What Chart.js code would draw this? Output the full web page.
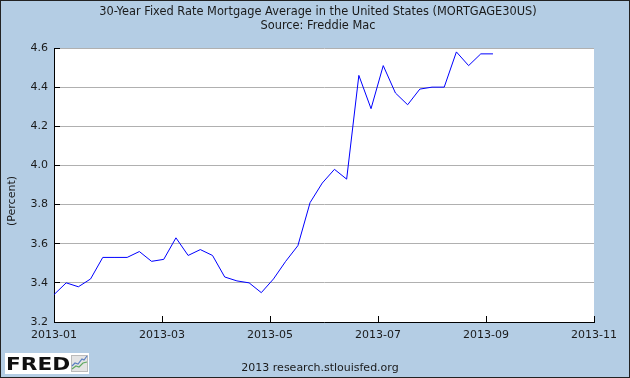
<!DOCTYPE html>
<html>
<head>
<meta charset="utf-8">
<script src="https://cdn.jsdelivr.net/npm/chart.js@4.4.1/dist/chart.umd.min.js"></script>
<style>
  html, body { margin: 0; padding: 0; background: #b4cde4; }
  canvas { display: block; }
</style>
</head>
<body>
<canvas id="myChart" width="630" height="378"></canvas>
<script>
// weekly survey dates (Thursdays) and the 30-year fixed rate, percent
const weekDates = [
    '2013-01-03', '2013-01-10', '2013-01-17', '2013-01-24', '2013-01-31',
    '2013-02-07', '2013-02-14', '2013-02-21', '2013-02-28',
    '2013-03-07', '2013-03-14', '2013-03-21', '2013-03-28',
    '2013-04-04', '2013-04-11', '2013-04-18', '2013-04-25',
    '2013-05-02', '2013-05-09', '2013-05-16', '2013-05-23', '2013-05-30',
    '2013-06-06', '2013-06-13', '2013-06-20', '2013-06-27',
    '2013-07-04', '2013-07-11', '2013-07-18', '2013-07-25',
    '2013-08-01', '2013-08-08', '2013-08-15', '2013-08-22', '2013-08-29',
    '2013-09-05', '2013-09-12'
];
const mortgageRates = [
    3.34, 3.40, 3.38, 3.42, 3.53,
    3.53, 3.53, 3.56, 3.51,
    3.52, 3.63, 3.54, 3.57,
    3.54, 3.43, 3.41, 3.40,
    3.35, 3.42, 3.51, 3.59, 3.81,
    3.91, 3.98, 3.93, 4.46,
    4.29, 4.51, 4.37, 4.31,
    4.39, 4.40, 4.40, 4.58, 4.51,
    4.57, 4.57
];

// x axis: days since first observation, FRED splits it in 5 equal parts
const xTickDays = [0, 62, 124, 186, 248, 310];
const xTickLabels = ['2013-01', '2013-03', '2013-05', '2013-07', '2013-09', '2013-11'];

const titleLines = [
    '30-Year Fixed Rate Mortgage Average in the United States (MORTGAGE30US)',
    'Source: Freddie Mac'
];
const yAxisTitle = '(Percent)';
const footerText = '2013 research.stlouisfed.org';

const DAY = 24 * 60 * 60 * 1000;
const startDay = Date.parse(weekDates[0]);
const points = weekDates.map((d, i) => ({
    x: (Date.parse(d) - startDay) / DAY,
    y: mortgageRates[i]
}));

const FONT = '"DejaVu Sans", Verdana, sans-serif';

// background, white plot area, titles, footer and logo
const fredFrame = {
    id: 'fredFrame',
    beforeDraw(chart) {
        const { ctx, chartArea: a, width, height } = chart;
        ctx.save();
        ctx.fillStyle = '#b4cde4';
        ctx.fillRect(0, 0, width, height);
        ctx.fillStyle = '#ffffff';
        ctx.fillRect(a.left, a.top, a.right - a.left, a.bottom - a.top);
        ctx.restore();
    },
    afterDraw(chart) {
        const { ctx, width, height } = chart;
        ctx.save();
        ctx.fillStyle = '#1a1a1a';
        ctx.textAlign = 'center';
        ctx.textBaseline = 'middle';
        ctx.font = '11.4px ' + FONT;
        ctx.fillText(titleLines[0], 318, 12);
        ctx.fillText(titleLines[1], 318, 26);
        ctx.font = '11px ' + FONT;
        ctx.fillText(footerText, 320, 368);

        // y axis title
        ctx.save();
        ctx.translate(12, 201);
        ctx.rotate(-Math.PI / 2);
        ctx.fillText(yAxisTitle, 0, 0);
        ctx.restore();

        // FRED logo
        ctx.fillStyle = '#ffffff';
        ctx.fillRect(5, 353, 84, 21);
        ctx.save();
        ctx.translate(6, 370);
        ctx.scale(1.2, 1);
        ctx.fillStyle = '#111111';
        ctx.font = 'bold 18px ' + FONT;
        ctx.textAlign = 'left';
        ctx.textBaseline = 'alphabetic';
        ctx.fillText('FRED', 0, 0);
        ctx.restore();
        ctx.fillStyle = '#e4e4e4';
        ctx.fillRect(71, 355, 17, 17);
        ctx.strokeStyle = '#bbbbbb';
        ctx.lineWidth = 1;
        ctx.strokeRect(71.5, 355.5, 16, 16);
        ctx.lineWidth = 1.2;
        ctx.strokeStyle = '#5fa85f';
        ctx.beginPath();
        ctx.moveTo(72, 369); ctx.lineTo(76, 366); ctx.lineTo(79, 367); ctx.lineTo(83, 363); ctx.lineTo(87, 362);
        ctx.stroke();
        ctx.strokeStyle = '#5a7fc0';
        ctx.beginPath();
        ctx.moveTo(72, 366); ctx.lineTo(75, 363); ctx.lineTo(78, 364); ctx.lineTo(82, 359); ctx.lineTo(84, 360); ctx.lineTo(87, 356);
        ctx.stroke();

        // outer frame
        ctx.strokeStyle = '#222222';
        ctx.lineWidth = 1;
        ctx.strokeRect(0.5, 0.5, width - 1, height - 1);
        ctx.restore();
    }
};

const ctx = document.getElementById('myChart').getContext('2d');
new Chart(ctx, {
    type: 'line',
    data: {
        datasets: [{
            data: points,
            borderColor: '#0000ff',
            borderWidth: 1,
            pointRadius: 0,
            tension: 0,
            fill: false
        }]
    },
    options: {
        responsive: false,
        animation: false,
        devicePixelRatio: 1,
        layout: { padding: { left: 0, top: 48, right: 34, bottom: 0 } },
        plugins: {
            legend: { display: false },
            tooltip: { enabled: false }
        },
        scales: {
            x: {
                type: 'linear',
                min: xTickDays[0],
                max: xTickDays[xTickDays.length - 1],
                afterBuildTicks: scale => { scale.ticks = xTickDays.map(v => ({ value: v })); },
                afterFit: scale => { scale.height = 56; },
                grid: { display: true, drawOnChartArea: false, drawTicks: true, tickLength: -6, tickColor: '#000000' },
                border: { display: true, color: '#000000', width: 1 },
                ticks: {
                    autoSkip: false,
                    maxRotation: 0,
                    padding: 13,
                    color: '#1a1a1a',
                    font: { family: FONT, size: 11 },
                    callback: (v, i) => xTickLabels[i]
                }
            },
            y: {
                min: 3.2,
                max: 4.6,
                afterFit: scale => { scale.width = 54; },
                grid: { color: '#b0b0b0', lineWidth: 1, drawTicks: true, tickLength: -6, tickColor: '#000000' },
                border: { display: true, color: '#000000', width: 1 },
                ticks: {
                    stepSize: 0.2,
                    padding: 12,
                    color: '#1a1a1a',
                    font: { family: FONT, size: 11 },
                    callback: v => v.toFixed(1)
                }
            }
        }
    },
    plugins: [fredFrame]
});
</script>
</body>
</html>
